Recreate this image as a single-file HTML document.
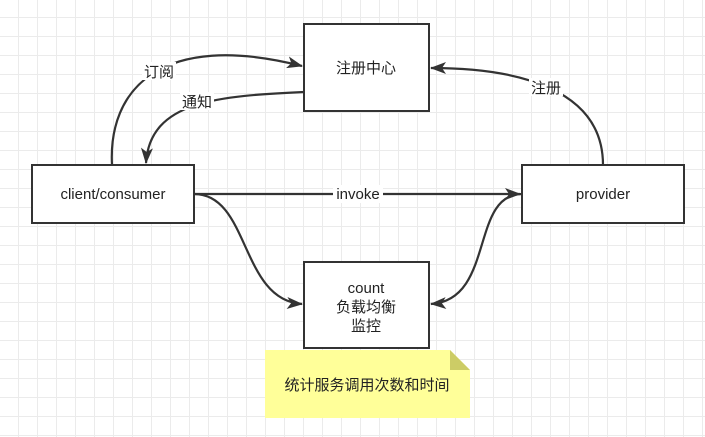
<!DOCTYPE html>
<html><head><meta charset="utf-8"><style>
body{margin:0;width:705px;height:437px;overflow:hidden;background:#fff;
background-image:linear-gradient(#ebebeb 1px,transparent 1px),linear-gradient(90deg,#ebebeb 1px,transparent 1px);
background-size:19px 19px;background-position:-1px -2px;
font-family:"Liberation Sans","Noto Sans CJK SC",sans-serif;}
svg{position:absolute;left:0;top:0}
</style></head><body>
<svg width="705" height="437" viewBox="0 0 705 437">
<defs><marker id="a" markerWidth="10" markerHeight="10" refX="9" refY="5" orient="auto" markerUnits="userSpaceOnUse"><path d="M0,0 L10,5 L0,10 L3,5z" fill="#333"/></marker>
<marker id="b" markerWidth="16" markerHeight="12" refX="15" refY="6" orient="auto" markerUnits="userSpaceOnUse"><path d="M0,0 L16,6 L0,12 L4,6z" fill="#333"/></marker></defs>
<g fill="none" stroke="#333" stroke-width="2.2">
<path d="M112,165 C108,90 160,30 302,66" marker-end="url(#b)"/>
<path d="M304,92 C220,96 150,100 146,163" marker-end="url(#b)"/>
<path d="M603,165 C603,90 520,68 431,68" marker-end="url(#b)"/>
<path d="M194,194 L520,194" marker-end="url(#b)"/>
<path d="M194,194 C250,194 240,300 302,304" marker-end="url(#b)"/>
<path d="M522,194 C470,194 495,300 431,304" marker-end="url(#b)"/>
</g>
<g fill="#fff" stroke="#333" stroke-width="2">
<rect x="304" y="24" width="125" height="87"/>
<rect x="32" y="165" width="162" height="58"/>
<rect x="522" y="165" width="162" height="58"/>
<rect x="304" y="262" width="125" height="86"/>
</g>
<path d="M265,350 H450 L470,370 V418 H265z" fill="#ffff99"/>
<path d="M450,350 L470,370 H450z" fill="#cccc66"/>
<g font-size="15" fill="#222" text-anchor="middle" font-family="Liberation Sans,Noto Sans CJK SC,sans-serif">
<text x="366" y="73">注册中心</text>
<text x="113" y="199">client/consumer</text>
<text x="603" y="199">provider</text>
<text x="366" y="293">count</text>
<text x="366" y="312">负载均衡</text>
<text x="366" y="331">监控</text>
<text x="367" y="390">统计服务调用次数和时间</text>
</g>
<g font-size="15" fill="#222" text-anchor="middle">
<rect x="142" y="62" width="34" height="18" fill="#fff"/><text x="159" y="77">订阅</text>
<rect x="180" y="92" width="34" height="18" fill="#fff"/><text x="197" y="107">通知</text>
<rect x="529" y="78" width="34" height="18" fill="#fff"/><text x="546" y="93">注册</text>
<rect x="333" y="185" width="50" height="18" fill="#fff"/><text x="358" y="199">invoke</text>
</g>
</svg>
</body></html>
